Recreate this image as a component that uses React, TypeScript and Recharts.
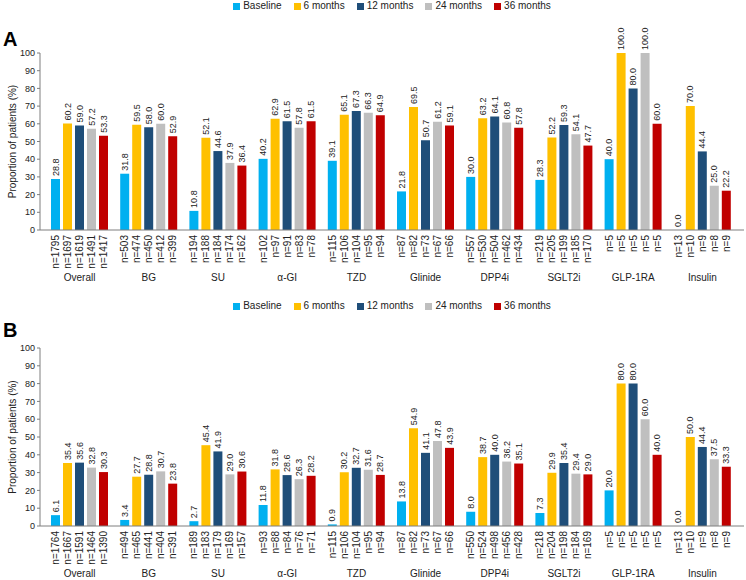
import React from 'react';
import { BarChart, Bar, XAxis, YAxis, LabelList } from 'recharts';

const categories = ['Overall', 'BG', 'SU', 'α-GI', 'TZD', 'Glinide', 'DPP4i', 'SGLT2i', 'GLP-1RA', 'Insulin'];
const seriesNames = ['Baseline', '6 months', '12 months', '24 months', '36 months'];
const seriesColors = ['#00B0F0', '#FFC000', '#1F4E79', '#BFBFBF', '#C00000'];
const yTicks = [0, 10, 20, 30, 40, 50, 60, 70, 80, 90, 100];

// panel A
const aBaseline = [28.8, 31.8, 10.8, 40.2, 39.1, 21.8, 30.0, 28.3, 40.0, 0.0];
const aM6 = [60.2, 59.5, 52.1, 62.9, 65.1, 69.5, 63.2, 52.2, 100.0, 70.0];
const aM12 = [59.0, 58.0, 44.6, 61.5, 67.3, 50.7, 64.1, 59.3, 80.0, 44.4];
const aM24 = [57.2, 60.0, 37.9, 57.8, 66.3, 61.2, 60.8, 54.1, 100.0, 25.0];
const aM36 = [53.3, 52.9, 36.4, 61.5, 64.9, 59.1, 57.8, 47.7, 60.0, 22.2];
const aNBaseline = [1795, 503, 194, 102, 115, 87, 557, 219, 5, 13];
const aNM6 = [1697, 474, 188, 97, 106, 82, 530, 205, 5, 10];
const aNM12 = [1619, 450, 184, 91, 104, 73, 504, 199, 5, 9];
const aNM24 = [1491, 412, 174, 83, 95, 67, 462, 185, 5, 8];
const aNM36 = [1417, 399, 162, 78, 94, 66, 434, 170, 5, 9];

// panel B
const bBaseline = [6.1, 3.4, 2.7, 11.8, 0.9, 13.8, 8.0, 7.3, 20.0, 0.0];
const bM6 = [35.4, 27.7, 45.4, 31.8, 30.2, 54.9, 38.7, 29.9, 80.0, 50.0];
const bM12 = [35.6, 28.8, 41.9, 28.6, 32.7, 41.1, 40.0, 35.4, 80.0, 44.4];
const bM24 = [32.8, 30.7, 29.0, 26.3, 31.6, 47.8, 36.2, 29.4, 60.0, 37.5];
const bM36 = [30.3, 23.8, 30.6, 28.2, 28.7, 43.9, 35.1, 29.0, 40.0, 33.3];
const bNBaseline = [1764, 494, 189, 93, 115, 87, 550, 218, 5, 13];
const bNM6 = [1667, 465, 183, 88, 106, 82, 524, 204, 5, 10];
const bNM12 = [1591, 441, 179, 84, 104, 73, 498, 198, 5, 9];
const bNM24 = [1464, 404, 169, 76, 95, 67, 456, 184, 5, 8];
const bNM36 = [1390, 391, 157, 71, 94, 66, 428, 169, 5, 9];

const buildData = (values: number[][], counts: number[][]) =>
  categories.map((category, i) => {
    const row: any = { category };
    values.forEach((v, s) => {
      row[`v${s}`] = v[i];
      row[`n${s}`] = counts[s][i];
    });
    return row;
  });

const dataA = buildData([aBaseline, aM6, aM12, aM24, aM36], [aNBaseline, aNM6, aNM12, aNM24, aNM36]);
const dataB = buildData([bBaseline, bM6, bM12, bM24, bM36], [bNBaseline, bNM6, bNM12, bNM24, bNM36]);

const FONT = '"Liberation Sans", Arial, sans-serif';
const AXIS = '#7f7f7f';
const TEXT = '#222';

const box = (p: any) => {
  const vb = p.viewBox || {};
  return {
    x: Number(p.x ?? vb.x),
    y: Number(p.y ?? vb.y),
    w: Number(p.width ?? vb.width),
    h: Number(p.height ?? vb.height),
  };
};

const renderValue = (props: any) => {
  const { x, y, w } = box(props);
  return (
    <text transform={`translate(${x + w / 2},${y - 3}) rotate(-90)`} textAnchor="start" dominantBaseline="central" fontSize={9} fill={TEXT}>
      {Number(props.value).toFixed(1)}
    </text>
  );
};

const renderCount = (props: any) => {
  const { x, y, w, h } = box(props);
  return (
    <text transform={`translate(${x + w / 2},${y + h + 5}) rotate(-90)`} textAnchor="end" dominantBaseline="central" fontSize={10} fill={TEXT}>
      {`n=${props.value}`}
    </text>
  );
};

const CategoryTick = (props: any) => {
  const { x, y, payload } = props;
  return (
    <text x={x} y={y + 43} textAnchor="middle" fontSize={10} fill={TEXT}>
      {payload.value}
    </text>
  );
};

const yLabel = (props: any) => {
  const vb = props.viewBox;
  return (
    <text transform={`translate(12,${vb.y + vb.height / 2}) rotate(-90)`} textAnchor="middle" dominantBaseline="central" fontSize={10} fill={TEXT}>
      Proportion of patients (%)
    </text>
  );
};

const Legend = ({ top }: { top: number }) => (
  <div style={{ position: 'absolute', top, left: 40, width: 704, display: 'flex', justifyContent: 'center', fontSize: 10, color: TEXT, lineHeight: '12px' }}>
    {seriesNames.map((name, i) => (
      <div key={name} style={{ display: 'flex', alignItems: 'center', marginRight: i < seriesNames.length - 1 ? 12 : 0 }}>
        <span style={{ width: 7, height: 7, background: seriesColors[i], marginRight: 3, display: 'inline-block' }} />
        <span>{name}</span>
      </div>
    ))}
  </div>
);

type PanelProps = {
  data: any[]
  letter: string
  legendTop: number
  letterTop: number
  marginTop: number
  axisHeight: number
}

const Panel = ({ data, letter, legendTop, letterTop, marginTop, axisHeight }: PanelProps) => (
  <div style={{ position: 'relative', width: 746, height: 290 }}>
    <BarChart width={746} height={290} data={data} margin={{ top: marginTop, right: 2, bottom: 0, left: 0 }} barSize={9} barGap={3}>
      <XAxis
        dataKey="category"
        interval={0}
        height={axisHeight}
        tickLine={false}
        axisLine={{ stroke: AXIS }}
        padding={{ left: 5, right: 7 }}
        tick={<CategoryTick />}
      />
      <YAxis
        domain={[0, 100]}
        ticks={yTicks}
        width={40}
        interval={0}
        axisLine={{ stroke: AXIS }}
        tickLine={{ stroke: AXIS }}
        tickSize={3}
        tick={{ fontSize: 9, fill: TEXT }}
        label={{ content: yLabel }}
      />
      {seriesNames.map((name, s) => (
        <Bar key={name} dataKey={`v${s}`} name={name} fill={seriesColors[s]} minPointSize={0.01} isAnimationActive={false}>
          <LabelList dataKey={`v${s}`} content={renderValue} />
          <LabelList dataKey={`n${s}`} content={renderCount} />
        </Bar>
      ))}
    </BarChart>
    <Legend top={legendTop} />
    <div style={{ position: 'absolute', left: 3, top: letterTop, fontSize: 20, fontWeight: 'bold', lineHeight: '20px', color: '#000' }}>
      {letter}
    </div>
  </div>
);

export default function App() {
  return (
    <div style={{ width: 746, height: 580, fontFamily: FONT, background: '#fff' }}>
      <style>{'body{margin:0}'}</style>
      <Panel data={dataA} letter="A" legendTop={0} letterTop={29} marginTop={53} axisHeight={60} />
      <Panel data={dataB} letter="B" legendTop={10} letterTop={30} marginTop={58} axisHeight={54} />
    </div>
  );
}
